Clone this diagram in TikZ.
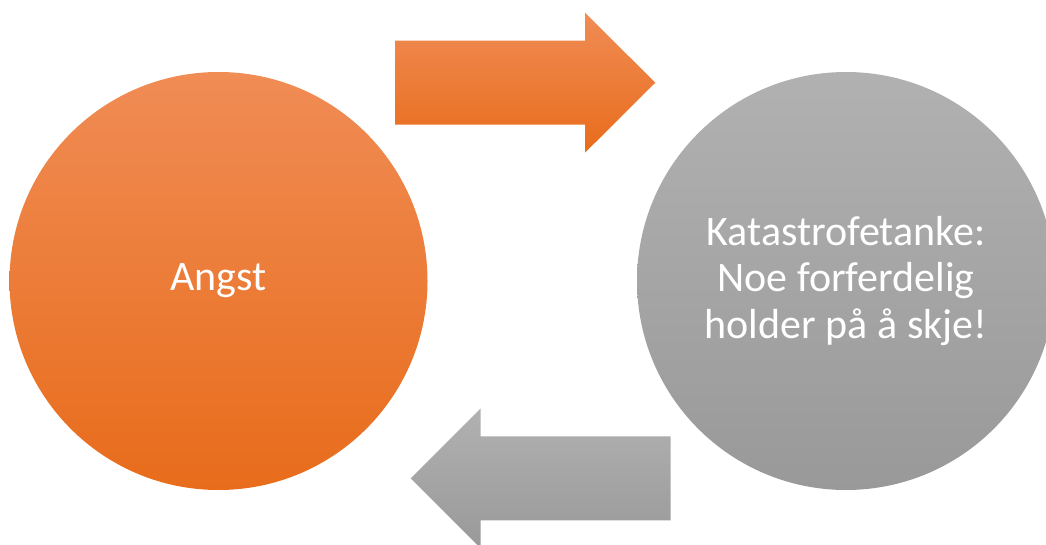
\documentclass[tikz,border=0pt]{standalone}
\usepackage{fontspec}
\setmainfont{Carlito}
\definecolor{orTop}{HTML}{F08C55}
\definecolor{orMid}{HTML}{F4812F}
\definecolor{orBot}{HTML}{E86C1B}
\definecolor{grTop}{HTML}{B1B1B1}
\definecolor{grBot}{HTML}{999999}
\begin{document}
\begin{tikzpicture}[x=1pt,y=-1pt,
  orangefill/.style={top color=orTop, middle color=orMid, bottom color=orBot},
  grayfill/.style={top color=grTop, bottom color=grBot},
  bubble/.style={circle, minimum size=418pt, inner sep=0pt, text=white,
    align=center, font=\fontsize{42}{46.5}\selectfont}]
  \useasboundingbox (0,0) rectangle (1046,545);
  \clip (0,0) rectangle (1046,545);

  % the two circles
  \node[bubble, orangefill] (angst) at (218.5,281) {Angst};
  \node[bubble, grayfill] (tanke) at (846,281)
    {Katastrofetanke:\\Noe forferdelig\\holder på å skje!};

  % block arrow from left to right (top)
  \shade[orangefill] (395,40.7) -- (585,40.7) -- (585,12.7) -- (655.3,82.7)
    -- (585,152.7) -- (585,124.7) -- (395,124.7) -- cycle;

  % block arrow from right to left (bottom)
  \shade[grayfill] (670.7,436.3) -- (480.7,436.3) -- (480.7,408.3)
    -- (410.7,478.3) -- (480.7,548.3) -- (480.7,520.3) -- (670.7,520.3) -- cycle;
\end{tikzpicture}
\end{document}
